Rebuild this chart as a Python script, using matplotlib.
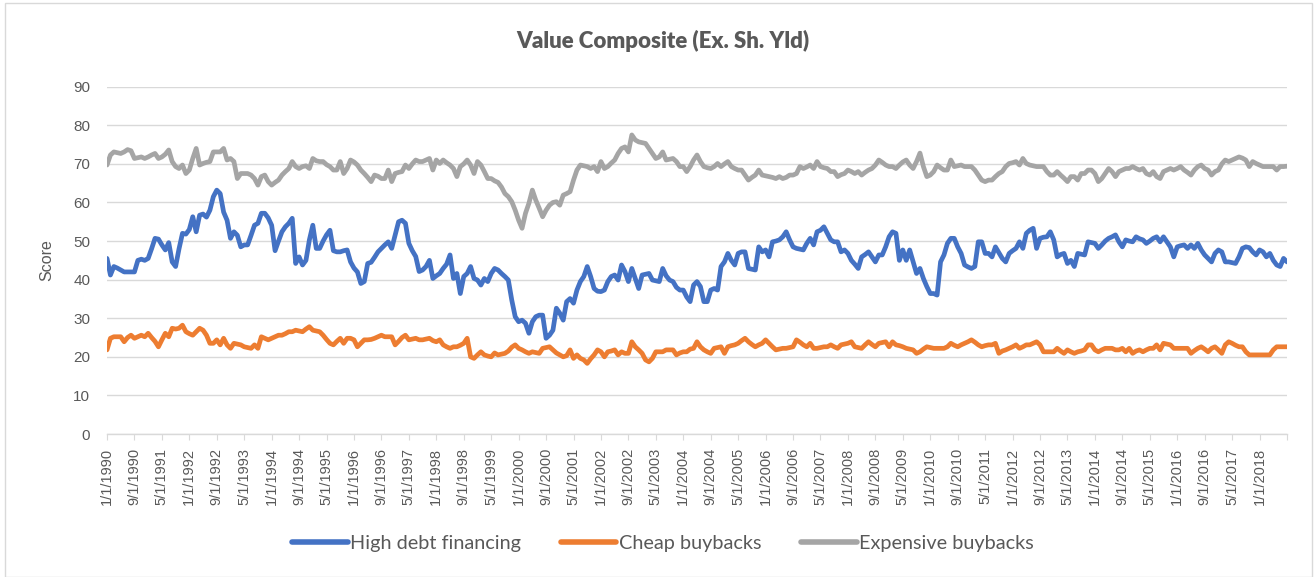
import numpy as np
import pandas as pd
import matplotlib
matplotlib.use("Agg")
from matplotlib import pyplot as plt
from matplotlib.patches import Rectangle

# monthly scores, 1/1/1990 .. 9/1/2018 (one row per year)
high_debt = [
    45.5, 41.2, 43.4, 43.0, 42.5, 42.0, 42.0, 42.0, 42.0, 45.0, 45.3, 45.0,
    45.5, 48.0, 50.7, 50.5, 49.0, 47.7, 49.6, 44.6, 43.4, 48.0, 52.0, 51.8,
    53.0, 56.3, 52.4, 56.7, 57.0, 56.2, 58.0, 61.5, 63.2, 62.3, 57.5, 55.4,
    50.7, 52.4, 51.5, 48.5, 49.0, 49.0, 51.5, 54.1, 54.6, 57.2, 57.2, 56.0,
    54.1, 47.5, 50.0, 52.4, 53.7, 54.6, 55.9, 44.2, 45.9, 43.8, 45.0, 50.3,
    54.1, 48.1, 48.1, 50.0, 51.6, 52.8, 47.5, 47.2, 47.2, 47.5, 47.7, 44.6,
    43.0, 42.0, 39.0, 39.5, 44.2, 44.5, 45.8, 47.2, 48.1, 49.0, 49.8, 48.1,
    51.6, 55.0, 55.4, 54.6, 49.4, 47.5, 46.0, 42.1, 42.5, 43.4, 45.0, 40.3,
    41.0, 41.6, 42.9, 44.0, 46.4, 40.3, 41.6, 36.4, 40.8, 41.6, 43.4, 40.3,
    39.9, 38.6, 40.3, 39.5, 41.6, 42.9, 42.5, 41.6, 40.8, 39.9, 34.7, 30.4,
    29.1, 29.5, 28.7, 26.1, 29.1, 30.4, 30.8, 30.8, 24.8, 25.6, 26.9, 32.6,
    31.3, 29.5, 34.3, 35.1, 33.9, 37.3, 39.5, 40.8, 43.4, 40.8, 37.7, 37.0,
    36.9, 37.3, 39.5, 40.8, 41.2, 39.9, 43.8, 42.1, 39.5, 42.9, 40.3, 37.7,
    41.2, 41.4, 41.6, 39.9, 39.7, 39.5, 42.9, 41.0, 39.9, 39.5, 38.0, 37.3,
    37.3, 35.5, 34.3, 38.6, 39.5, 38.2, 34.3, 34.3, 37.3, 37.7, 37.3, 43.4,
    44.6, 46.8, 45.0, 43.8, 46.8, 47.2, 47.2, 42.9, 42.7, 42.5, 48.5, 47.2,
    47.7, 45.9, 49.8, 50.0, 50.3, 51.1, 52.4, 50.3, 48.5, 48.1, 47.9, 47.7,
    49.4, 50.7, 49.0, 52.4, 52.8, 53.7, 52.0, 50.3, 49.8, 49.8, 47.2, 47.7,
    46.8, 45.0, 44.0, 42.9, 45.9, 46.5, 47.2, 45.9, 44.6, 46.4, 46.4, 48.5,
    51.1, 52.4, 52.0, 45.0, 47.7, 45.0, 47.7, 44.6, 41.6, 42.9, 40.3, 38.2,
    36.4, 36.4, 36.0, 44.6, 46.4, 49.4, 50.7, 50.7, 48.5, 46.8, 43.8, 43.3,
    42.9, 43.4, 49.8, 49.8, 46.8, 46.8, 45.9, 48.5, 47.0, 45.5, 44.6, 46.8,
    47.5, 48.1, 49.8, 48.1, 52.0, 52.8, 53.3, 48.1, 50.7, 51.0, 51.1, 52.4,
    50.3, 45.9, 46.5, 46.8, 44.2, 45.0, 43.4, 46.8, 46.6, 46.4, 49.8, 49.6,
    49.4, 48.1, 49.0, 50.0, 50.7, 51.1, 51.6, 49.8, 48.5, 50.3, 50.0, 49.8,
    51.1, 50.6, 50.3, 49.4, 50.0, 50.7, 51.1, 49.8, 51.1, 49.8, 48.5, 45.9,
    48.5, 48.8, 49.0, 48.1, 49.0, 48.1, 49.4, 47.7, 46.4, 45.5, 44.6, 46.8,
    47.7, 47.2, 44.6, 44.6, 44.4, 44.2, 45.9, 48.1, 48.5, 48.3, 47.2, 46.4,
    47.7, 47.2, 45.9, 46.8, 45.0, 43.8, 43.4, 45.5, 44.6,
]

cheap_buybacks = [
    21.8, 24.8, 25.2, 25.2, 25.2, 23.9, 25.0, 25.6, 24.8, 25.2, 25.6, 25.2,
    26.1, 25.0, 24.0, 22.6, 24.4, 26.1, 25.2, 27.4, 27.2, 27.4, 28.2, 26.5,
    26.0, 25.6, 26.5, 27.4, 26.9, 25.6, 23.5, 23.5, 24.4, 23.1, 24.8, 23.1,
    22.2, 23.5, 23.3, 23.1, 22.6, 22.4, 22.2, 23.1, 22.2, 25.2, 24.8, 24.4,
    24.8, 25.2, 25.6, 25.6, 26.0, 26.5, 26.5, 26.9, 26.7, 26.5, 27.2, 27.8,
    26.9, 26.7, 26.5, 25.6, 24.5, 23.5, 23.1, 24.0, 24.8, 23.5, 24.8, 24.8,
    24.4, 22.6, 23.5, 24.4, 24.4, 24.5, 24.8, 25.2, 25.6, 25.2, 25.2, 25.2,
    23.1, 24.0, 25.0, 25.6, 24.4, 24.6, 24.8, 24.4, 24.4, 24.6, 24.8, 24.2,
    23.9, 24.4, 23.1, 22.6, 22.2, 22.6, 22.6, 23.0, 23.5, 24.8, 20.0, 19.6,
    20.5, 21.3, 20.5, 20.2, 20.0, 21.0, 20.5, 20.7, 20.9, 21.5, 22.5, 23.1,
    22.2, 21.8, 21.3, 20.9, 21.3, 21.1, 20.9, 22.2, 22.4, 22.6, 21.8, 21.0,
    20.5, 20.0, 20.3, 21.8, 19.6, 20.5, 19.6, 19.2, 18.3, 19.5, 20.5, 21.8,
    21.3, 20.0, 21.3, 21.5, 21.8, 20.5, 21.3, 20.9, 20.9, 23.9, 22.6, 21.8,
    20.9, 19.2, 18.7, 19.6, 21.3, 21.3, 21.3, 21.8, 21.8, 21.8, 20.5, 21.0,
    21.3, 21.3, 22.0, 22.2, 23.9, 22.6, 21.8, 21.3, 20.9, 22.2, 22.4, 22.6,
    20.9, 22.6, 22.9, 23.1, 23.5, 24.2, 24.8, 23.9, 23.2, 22.6, 23.1, 23.5,
    24.4, 23.5, 22.6, 21.8, 22.0, 22.2, 22.2, 22.4, 22.6, 24.4, 23.8, 23.1,
    22.6, 23.5, 22.2, 22.2, 22.4, 22.6, 22.6, 23.1, 22.6, 22.2, 23.1, 23.3,
    23.5, 23.9, 22.6, 22.4, 22.2, 23.1, 23.9, 23.2, 22.6, 23.5, 23.7, 23.9,
    22.6, 23.9, 23.1, 22.9, 22.6, 22.2, 22.0, 21.8, 20.9, 21.3, 22.0, 22.6,
    22.4, 22.2, 22.2, 22.2, 22.2, 22.6, 23.5, 23.0, 22.6, 23.1, 23.5, 23.9,
    24.4, 23.8, 23.1, 22.6, 22.9, 23.1, 23.1, 23.5, 20.9, 21.5, 21.8, 22.2,
    22.6, 23.1, 22.2, 22.6, 23.1, 23.1, 23.5, 23.9, 23.1, 21.3, 21.3, 21.3,
    21.3, 22.2, 21.5, 20.9, 21.8, 21.3, 20.9, 21.3, 21.5, 21.8, 23.1, 23.1,
    21.8, 21.3, 21.8, 22.2, 22.2, 22.2, 21.8, 21.8, 22.2, 21.3, 22.2, 20.9,
    21.5, 21.8, 21.3, 21.8, 22.2, 22.2, 23.1, 21.8, 23.5, 23.3, 23.1, 22.2,
    22.2, 22.2, 22.2, 22.2, 20.9, 21.6, 22.2, 22.6, 22.0, 21.3, 22.2, 22.6,
    21.8, 20.9, 23.1, 23.9, 23.5, 23.0, 22.6, 22.6, 21.3, 20.5, 20.5, 20.5,
    20.5, 20.5, 20.5, 20.5, 21.8, 22.6, 22.6, 22.6, 22.6,
]

expensive_buybacks = [
    69.7, 72.3, 73.1, 72.9, 72.7, 73.1, 73.7, 73.4, 71.4, 71.6, 71.8, 71.4,
    71.8, 72.3, 72.7, 71.4, 71.8, 72.5, 73.6, 70.6, 69.3, 68.8, 69.7, 67.5,
    68.4, 71.4, 74.0, 69.7, 70.1, 70.4, 70.6, 73.1, 73.1, 73.1, 74.0, 71.0,
    71.4, 70.6, 66.2, 67.5, 67.5, 67.5, 67.1, 66.2, 64.5, 66.7, 67.1, 65.4,
    64.5, 65.2, 65.8, 67.1, 68.0, 68.8, 70.6, 69.3, 68.8, 69.3, 69.5, 68.8,
    71.4, 70.8, 70.6, 70.6, 69.8, 69.3, 68.4, 68.4, 70.6, 67.5, 68.8, 71.0,
    70.5, 69.7, 68.4, 67.5, 66.5, 65.4, 67.1, 66.8, 66.2, 66.2, 68.4, 65.4,
    67.5, 67.8, 68.0, 69.7, 68.8, 70.0, 71.0, 70.6, 70.6, 71.0, 71.4, 68.4,
    71.0, 70.1, 71.0, 70.3, 69.7, 68.8, 66.7, 69.3, 70.0, 71.0, 69.7, 67.5,
    70.6, 69.7, 68.0, 66.2, 66.2, 65.6, 65.2, 64.0, 62.3, 61.5, 60.2, 58.0,
    55.4, 53.3, 57.2, 59.8, 63.2, 60.6, 58.5, 56.3, 58.0, 59.3, 60.0, 60.2,
    59.3, 61.9, 62.3, 62.8, 65.8, 68.4, 69.7, 69.5, 69.3, 68.8, 69.3, 68.0,
    70.6, 68.8, 69.3, 70.2, 71.0, 72.7, 74.0, 74.4, 73.1, 77.5, 76.2, 75.7,
    75.5, 75.3, 74.0, 72.7, 71.4, 71.8, 73.1, 71.0, 71.2, 71.4, 70.6, 69.3,
    69.3, 68.0, 69.3, 71.0, 72.3, 70.6, 69.3, 69.0, 68.8, 69.3, 70.1, 69.3,
    70.0, 70.6, 69.3, 68.8, 68.4, 68.4, 67.1, 65.8, 66.5, 67.1, 68.4, 67.1,
    66.9, 66.7, 66.5, 66.2, 66.7, 66.2, 66.5, 67.1, 67.1, 67.5, 69.3, 68.8,
    69.2, 69.7, 68.8, 70.6, 69.3, 69.0, 68.8, 68.0, 68.0, 66.7, 67.2, 67.5,
    68.4, 68.0, 67.5, 68.0, 67.1, 67.8, 68.4, 68.8, 69.7, 71.0, 70.4, 69.7,
    69.3, 69.3, 68.8, 69.7, 70.5, 71.0, 69.7, 68.8, 70.6, 72.8, 69.3, 66.7,
    67.1, 68.0, 69.7, 69.0, 68.4, 68.4, 71.0, 69.3, 69.5, 69.7, 69.3, 69.3,
    69.3, 68.4, 67.1, 65.8, 65.4, 65.8, 65.8, 66.7, 67.5, 68.0, 69.3, 70.1,
    70.3, 70.6, 69.7, 71.4, 70.1, 69.7, 69.5, 69.3, 69.3, 69.3, 68.0, 67.1,
    67.1, 68.0, 67.1, 66.3, 65.4, 66.7, 66.7, 65.8, 67.5, 67.5, 68.4, 68.4,
    67.5, 65.4, 66.2, 67.5, 68.8, 68.0, 66.7, 68.0, 68.4, 68.8, 68.8, 69.3,
    68.8, 68.4, 68.8, 67.5, 67.1, 68.0, 66.7, 66.2, 68.0, 68.4, 68.8, 68.4,
    68.8, 69.3, 68.4, 67.8, 67.1, 68.4, 69.3, 69.7, 68.8, 68.4, 67.1, 68.0,
    68.4, 70.0, 71.0, 70.6, 71.0, 71.4, 71.8, 71.5, 71.0, 69.3, 70.6, 70.1,
    69.7, 69.3, 69.3, 69.3, 69.3, 68.4, 69.3, 69.3, 69.4,
]

months = pd.date_range("1990-01-01", periods=len(high_debt), freq="MS")
tick_pos = list(range(0, len(months), 8))
tick_labels = [f"{d.month}/{d.day}/{d.year}" for d in months[tick_pos]]
tick_labels[-1] = ""  # Excel leaves the axis end unlabeled

text_grey = "#595959"
grid_grey = "#D9D9D9"

fig = plt.figure(figsize=(13.15, 5.77), dpi=100)
fig.patches.append(Rectangle((5 / 1315, 0), 1307 / 1315, 574 / 577, transform=fig.transFigure,
                             fill=False, edgecolor=grid_grey, linewidth=1))
ax = fig.add_axes([107 / 1315, 1 - 434 / 577, 1180 / 1315, 347.3 / 577])

x = np.arange(len(months))
ax.plot(x, high_debt, color="#4472C4", lw=3.4, solid_joinstyle="round", solid_capstyle="round",
        label="High debt financing")
ax.plot(x, cheap_buybacks, color="#ED7D31", lw=3.4, solid_joinstyle="round", solid_capstyle="round",
        label="Cheap buybacks")
ax.plot(x, expensive_buybacks, color="#A5A5A5", lw=3.4, solid_joinstyle="round", solid_capstyle="round",
        label="Expensive buybacks")

ax.set_xlim(0, len(months) - 1)
ax.set_ylim(0, 90)
ax.set_yticks(range(0, 91, 10))
ax.yaxis.grid(True, color=grid_grey, lw=1)
ax.set_axisbelow(True)
for s in ["top", "right", "left"]:
    ax.spines[s].set_visible(False)
ax.spines["bottom"].set_color(grid_grey)
ax.spines["bottom"].set_linewidth(1)

ax.set_xticks(tick_pos)
ax.set_xticklabels(tick_labels, rotation=90, fontsize=10.5, color=text_grey, family="Liberation Sans")
ax.tick_params(axis="x", direction="out", length=4, color=grid_grey, pad=6)
ax.tick_params(axis="y", length=0, pad=12, labelsize=11, labelcolor=text_grey)
for t in ax.get_yticklabels():
    t.set_family("Liberation Sans")

ax.set_ylabel("Score", fontsize=11.5, color=text_grey, family="Liberation Sans", labelpad=14)

fig.text(663 / 1315, 1 - 41 / 577, "Value Composite (Ex. Sh. Yld)", ha="center", va="center",
         fontsize=16, fontweight="heavy", color=text_grey, family="Lato")

leg = fig.legend(loc="center", bbox_to_anchor=(663 / 1315, 1 - 543 / 577), ncol=3, frameon=False,
                 prop={"family": "Lato", "size": 14.3}, handlelength=2.8, handletextpad=0.12,
                 columnspacing=2.0)
for t in leg.get_texts():
    t.set_color(text_grey)
for h in leg.get_lines():
    h.set_linewidth(4)

fig.savefig("out.png", dpi=100)
